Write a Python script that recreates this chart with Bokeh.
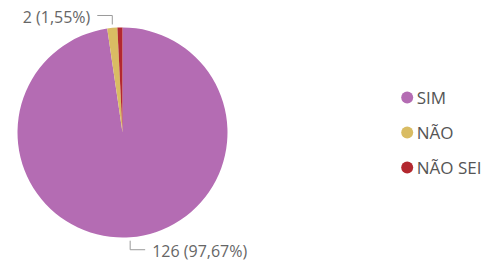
import numpy as np
from bokeh.plotting import figure
from bokeh.models import ColumnDataSource, Range1d
from bokeh.embed import file_html
from bokeh.resources import INLINE
from bokeh.core.properties import value

# ---- data ----
categories = ["SIM", "NÃO", "NÃO SEI"]
counts = [126, 2, 1]
colors = ["#B46CB3", "#D9BC63", "#B3282F"]
show_label = [True, True, False]

# ---- layout ----
W, H = 490, 261
cx, cy, R = 122, 129, 105      # pie centre / radius (screen px in data units)
FONT = "Open Sans"

p = figure(width=W, height=H, output_backend="svg", toolbar_location=None,
           x_range=Range1d(0, W), y_range=Range1d(0, H), min_border=0,
           outline_line_color=None, background_fill_color="white",
           border_fill_color="white")
p.axis.visible = False
p.xgrid.visible = False
p.ygrid.visible = False

total = sum(counts)
fr = np.array(counts) / total
cum = np.concatenate([[0], np.cumsum(fr)])
start = np.pi / 2 - 2 * np.pi * cum[:-1]
end = np.pi / 2 - 2 * np.pi * cum[1:]

src = ColumnDataSource(dict(start=start, end=end, color=colors, cat=categories))
p.wedge(x=cx, y=cy, radius=R, start_angle="start", end_angle="end",
        direction="clock", fill_color="color", line_color=None, source=src)

# ---- data labels with leader lines ----
gap, vlen, hlen, tgap = 3.5, 12.5, 15, 7
lx, ly, tx, ty, tt, ta = [], [], [], [], [], []
for i, c in enumerate(counts):
    if not show_label[i]:
        continue
    a = (start[i] + end[i]) / 2
    ex, ey = cx + R * np.cos(a), cy + R * np.sin(a)
    up = ey > cy
    sgn_y = 1 if up else -1
    y0 = ey + sgn_y * gap
    y1 = ey + sgn_y * vlen
    sgn_x = 1 if ex >= cx else -1
    x1 = ex + sgn_x * hlen
    lx.append([ex, ex, x1])
    ly.append([y0, y1, y1])
    pct = f"{100 * c / total:.2f}".replace(".", ",")
    tt.append(f"{c} ({pct}%)")
    tx.append(x1 + sgn_x * tgap)
    ty.append(y1 - 1.5)
    ta.append("left" if sgn_x > 0 else "right")

p.multi_line(xs=lx, ys=ly, line_color="#9a9a9a", line_width=1)
p.text(x=tx, y=ty, text=tt, text_align=ta, text_baseline="middle",
       text_font=value(FONT), text_font_size="16px", text_color="#666666")

# ---- legend (drawn manually) ----
leg_x, spacing = 406.7, 35
n = len(categories)
leg_y = [cy + (n - 1) / 2 * spacing - i * spacing for i in range(n)]
p.scatter(x=[leg_x] * n, y=leg_y, size=12, marker="circle",
          fill_color=colors, line_color=None)
p.text(x=[leg_x + 9.5] * n, y=leg_y, text=categories, text_align="left",
       text_baseline="middle", text_font=value(FONT), text_font_size="17px",
       text_color="#555555")

open("out.html", "w").write(file_html(p, INLINE))
